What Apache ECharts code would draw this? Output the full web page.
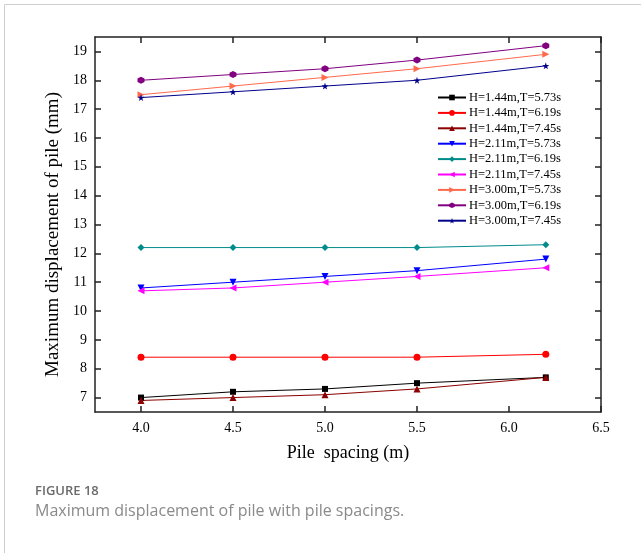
<!DOCTYPE html>
<html>
<head>
<meta charset="utf-8">
<script src="https://cdn.jsdelivr.net/npm/echarts@6/dist/echarts.min.js"></script>
<style>
    html, body { margin: 0; padding: 0; background: #fff; }
    #chart { width: 641px; height: 553px; }
</style>
</head>
<body>
<div id="chart"></div>
<script>
    // 桩间距 (m)
    var spacing = [4.0, 4.5, 5.0, 5.5, 6.2];
    var xTicks = [4.0, 4.5, 5.0, 5.5, 6.0, 6.5];
    var yTicks = [7, 8, 9, 10, 11, 12, 13, 14, 15, 16, 17, 18, 19];

    var names = [
        'H=1.44m,T=5.73s', 'H=1.44m,T=6.19s', 'H=1.44m,T=7.45s',
        'H=2.11m,T=5.73s', 'H=2.11m,T=6.19s', 'H=2.11m,T=7.45s',
        'H=3.00m,T=5.73s', 'H=3.00m,T=6.19s', 'H=3.00m,T=7.45s'
    ];
    var h144t573 = [7.0, 7.2, 7.3, 7.5, 7.7];
    var h144t619 = [8.4, 8.4, 8.4, 8.4, 8.5];
    var h144t745 = [6.9, 7.0, 7.1, 7.3, 7.7];
    var h211t573 = [10.8, 11.0, 11.2, 11.4, 11.8];
    var h211t619 = [12.2, 12.2, 12.2, 12.2, 12.3];
    var h211t745 = [10.7, 10.8, 11.0, 11.2, 11.5];
    var h300t573 = [17.5, 17.8, 18.1, 18.4, 18.9];
    var h300t619 = [18.0, 18.2, 18.4, 18.7, 19.2];
    var h300t745 = [17.4, 17.6, 17.8, 18.0, 18.5];

    var values = [h144t573, h144t619, h144t745, h211t573, h211t619, h211t745, h300t573, h300t619, h300t745];
    var colors = ['#000000', '#ff0000', '#8b0000', '#0000ff', '#008b8b', '#ff00ff', '#ff6a4d', '#800080', '#00008b'];
    var symbols = [
        'rect',
        'circle',
        'triangle',
        'path://M0,0L10,0L5,10Z',
        'diamond',
        'path://M10,0L10,10L0,5Z',
        'path://M0,0L10,5L0,10Z',
        'path://M5,0L9.33,2.5L9.33,7.5L5,10L0.67,7.5L0.67,2.5Z',
        'path://M5,0L6.18,3.6L10,3.6L6.9,5.9L8.1,9.5L5,7.3L1.9,9.5L3.1,5.9L0,3.6L3.82,3.6Z'
    ];
    var sizes = [6, 7, 7, 7, 7, 7, 7, 7, 7];

    var serif = '"Liberation Serif", "DejaVu Serif", serif';

    var series = [];
    for (var i = 0; i < names.length; i++) {
        var pts = [];
        for (var j = 0; j < spacing.length; j++) {
            pts.push([spacing[j], values[i][j]]);
        }
        series.push({
            name: names[i],
            type: 'line',
            data: pts,
            symbol: symbols[i],
            symbolSize: sizes[i],
            showAllSymbol: true,
            lineStyle: { color: colors[i], width: 1 },
            itemStyle: { color: colors[i] },
            animation: false
        });
    }

    var myChart = echarts.init(document.getElementById('chart'));
    myChart.setOption({
        animation: false,
        backgroundColor: '#fff',
        grid: { left: 95, right: 40, top: 37, bottom: 141 },
        legend: {
            orient: 'vertical',
            left: 432,
            top: 86,
            itemWidth: 28,
            itemHeight: 7,
            itemGap: 2.4,
            textStyle: { fontFamily: serif, fontSize: 12.5, color: '#000', padding: [0, 0, 0, -2] },
            data: names
        },
        xAxis: [{
            type: 'value',
            min: 3.75,
            max: 6.5,
            name: 'Pile  spacing (m)',
            nameLocation: 'middle',
            nameGap: 32,
            nameTextStyle: { fontFamily: serif, fontSize: 18, color: '#000' },
            axisLine: { show: true, lineStyle: { color: '#222', width: 1.5 } },
            axisTick: { show: true, inside: true, length: 6, customValues: xTicks, lineStyle: { color: '#222', width: 1.5 } },
            axisLabel: {
                show: true, customValues: xTicks, margin: 9,
                fontFamily: serif, fontSize: 14, color: '#000',
                formatter: function (v) { return v.toFixed(1); }
            },
            splitLine: { show: false }
        }, {
            type: 'value',
            position: 'top',
            min: 3.75,
            max: 6.5,
            axisLine: { show: true, lineStyle: { color: '#222', width: 1.5 } },
            axisTick: { show: true, inside: true, length: 6, customValues: xTicks, lineStyle: { color: '#222', width: 1.5 } },
            axisLabel: { show: false },
            splitLine: { show: false }
        }],
        yAxis: [{
            type: 'value',
            min: 6.5,
            max: 19.5,
            name: 'Maximum displacement of pile (mm)',
            nameLocation: 'middle',
            nameGap: 32,
            nameTextStyle: { fontFamily: serif, fontSize: 19, color: '#000', padding: [0, 20, 0, 0] },
            axisLine: { show: true, lineStyle: { color: '#222', width: 1.5 } },
            axisTick: { show: true, inside: true, length: 6, customValues: yTicks, lineStyle: { color: '#222', width: 1.5 } },
            axisLabel: { show: true, customValues: yTicks, margin: 8, fontFamily: serif, fontSize: 14, color: '#000' },
            splitLine: { show: false }
        }, {
            type: 'value',
            position: 'right',
            min: 6.5,
            max: 19.5,
            axisLine: { show: true, lineStyle: { color: '#222', width: 1.5 } },
            axisTick: { show: true, inside: true, length: 6, customValues: yTicks, lineStyle: { color: '#222', width: 1.5 } },
            axisLabel: { show: false },
            splitLine: { show: false }
        }],
        graphic: [
            { type: 'line', shape: { x1: 4.5, y1: 4.5, x2: 641, y2: 4.5 }, style: { stroke: '#cfcfcf', lineWidth: 1 } },
            { type: 'line', shape: { x1: 4.5, y1: 4.5, x2: 4.5, y2: 553 }, style: { stroke: '#cfcfcf', lineWidth: 1 } },
            {
                type: 'text', left: 35, top: 485,
                style: { text: 'FIGURE 18', fontFamily: '"Open Sans", "Noto Sans", sans-serif', fontSize: 13, fontWeight: 600, fill: '#6b6b6b' }
            },
            {
                type: 'text', left: 35, top: 503,
                style: { text: 'Maximum displacement of pile with pile spacings.', fontFamily: '"Open Sans", "Noto Sans", sans-serif', fontSize: 16, fill: '#8a8a8a' }
            }
        ],
        series: series
    });
</script>
</body>
</html>
